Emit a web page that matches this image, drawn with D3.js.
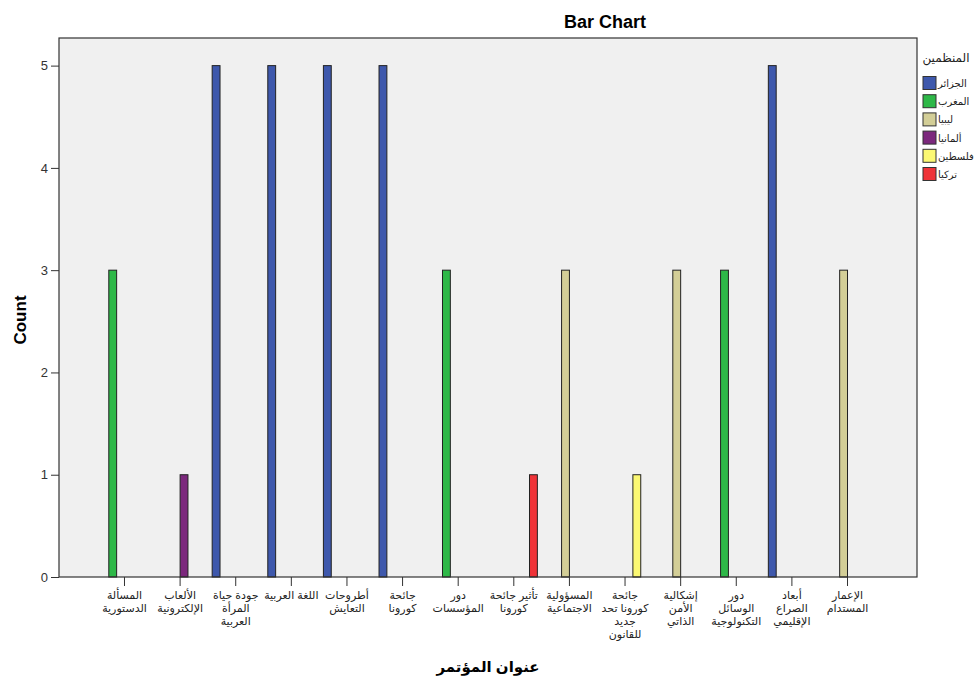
<!DOCTYPE html>
<html><head><meta charset="utf-8">
<script src="https://cdn.jsdelivr.net/npm/d3@7"></script>
<style>body{margin:0;background:#fff}svg{display:block}</style>
</head><body>
<svg id="chart" width="977" height="679"></svg>
<script>
const categories = [
  "المسألة\nالدستورية",
  "الألعاب\nالإلكترونية",
  "جودة حياة\nالمرأة\nالعربية",
  "اللغة العربية",
  "أطروحات\nالتعايش",
  "جائحة\nكورونا",
  "دور\nالمؤسسات",
  "تأثير جائحة\nكورونا",
  "المسؤولية\nالاجتماعية",
  "جائحة\nكورونا تحد\nجديد\nللقانون",
  "إشكالية\nالأمن\nالذاتي",
  "دور\nالوسائل\nالتكنولوجية",
  "أبعاد\nالصراع\nالإقليمي",
  "الإعمار\nالمستدام"
];
const seriesNames = ["الجزائر", "المغرب", "ليبيا", "ألمانيا", "فلسطين", "تركيا"];
const seriesColors = ["#3E58AC", "#2EB848", "#D3CE97", "#7C287D", "#FBF873", "#EF3338"];
const algeria   = [0,0,5,5,5,5,0,0,0,0,0,0,5,0];
const morocco   = [3,0,0,0,0,0,3,0,0,0,0,3,0,0];
const libya     = [0,0,0,0,0,0,0,0,3,0,3,0,0,3];
const germany   = [0,1,0,0,0,0,0,0,0,0,0,0,0,0];
const palestine = [0,0,0,0,0,0,0,0,0,1,0,0,0,0];
const turkey    = [0,0,0,0,0,0,0,1,0,0,0,0,0,0];
const seriesValues = [algeria, morocco, libya, germany, palestine, turkey];
const yTicks = [0,1,2,3,4,5];

const svg = d3.select("#chart");
const plot = {left: 59, right: 917, top: 38, bottom: 577};
const font = "Arial, 'Liberation Sans', 'DejaVu Sans', sans-serif";

svg.append("rect").attr("x", plot.left).attr("y", plot.top)
  .attr("width", plot.right - plot.left).attr("height", plot.bottom - plot.top)
  .attr("fill", "#f0f0f0");

const x = d3.scaleBand().domain(categories).range([57, 915]).paddingInner(0.153).paddingOuter(0.79);
const xs = d3.scaleBand().domain(seriesNames).range([0, x.bandwidth()]).padding(0);
const y = d3.scaleLinear().domain([0, 5.27]).range([plot.bottom, plot.top]);

// bars
const barData = [];
categories.forEach((c, i) => {
  seriesNames.forEach((s, j) => {
    if (seriesValues[j][i] > 0) barData.push({c, s, v: seriesValues[j][i], color: seriesColors[j]});
  });
});
svg.append("g").selectAll("rect").data(barData).join("rect")
  .attr("x", d => x(d.c) + xs(d.s))
  .attr("y", d => y(d.v))
  .attr("width", xs.bandwidth())
  .attr("height", d => y(0) - y(d.v))
  .attr("fill", d => d.color)
  .attr("stroke", "#222").attr("stroke-width", 1);

// frame
svg.append("rect").attr("x", plot.left).attr("y", plot.top)
  .attr("width", plot.right - plot.left).attr("height", plot.bottom - plot.top)
  .attr("fill", "none").attr("stroke", "#333").attr("stroke-width", 1.2);

// y axis
const yAxis = d3.axisLeft(y).tickValues(yTicks).tickSize(8).tickPadding(3).tickFormat(d3.format("d"));
const gy = svg.append("g").attr("transform", `translate(${plot.left},0)`).call(yAxis);
gy.select(".domain").remove();
gy.selectAll(".tick line").attr("stroke", "#333");
gy.selectAll(".tick text").attr("font-family", font).attr("font-size", 13).attr("fill", "#333");

// x axis
const xAxis = d3.axisBottom(x).tickSize(9).tickFormat("");
const gx = svg.append("g").attr("transform", `translate(0,${plot.bottom})`).call(xAxis);
gx.select(".domain").remove();
gx.selectAll(".tick line").attr("stroke", "#333");
gx.selectAll(".tick").each(function(d) {
  const t = d3.select(this).append("text")
    .attr("y", 22).attr("text-anchor", "middle").attr("direction", "rtl")
    .attr("font-family", font).attr("font-size", 11).attr("fill", "#222");
  d.split("\n").forEach((line, k) => {
    t.append("tspan").attr("x", 0).attr("dy", k === 0 ? 0 : 13).text(line);
  });
});

// titles
svg.append("text").attr("x", 605).attr("y", 28).attr("text-anchor", "middle")
  .attr("font-family", font).attr("font-size", 18).attr("font-weight", "bold").text("Bar Chart");
svg.append("text").attr("transform", "translate(26,320) rotate(-90)").attr("text-anchor", "middle")
  .attr("font-family", font).attr("font-size", 17).attr("font-weight", "bold").text("Count");
svg.append("text").attr("x", 488).attr("y", 672).attr("text-anchor", "middle").attr("direction", "rtl")
  .attr("font-family", font).attr("font-size", 15).attr("font-weight", "bold").text("عنوان المؤتمر");

// legend
const lg = svg.append("g");
lg.append("text").attr("x", 946).attr("y", 62).attr("text-anchor", "middle").attr("direction", "rtl")
  .attr("font-family", font).attr("font-size", 12).attr("fill", "#222").text("المنظمين");
const ly = d3.scalePoint().domain(seriesNames).range([83, 174]);
const items = lg.selectAll("g.item").data(seriesNames).join("g").attr("class", "item")
  .attr("transform", d => `translate(923,${ly(d)})`);
items.append("rect").attr("x", 0).attr("y", -6.5).attr("width", 13).attr("height", 13)
  .attr("fill", (d, i) => seriesColors[i]).attr("stroke", "#333");
items.append("text").attr("x", 15).attr("y", 4).attr("text-anchor", "start")
  .attr("font-family", font).attr("font-size", 10).attr("fill", "#222").text(d => d);
</script>
</body></html>
